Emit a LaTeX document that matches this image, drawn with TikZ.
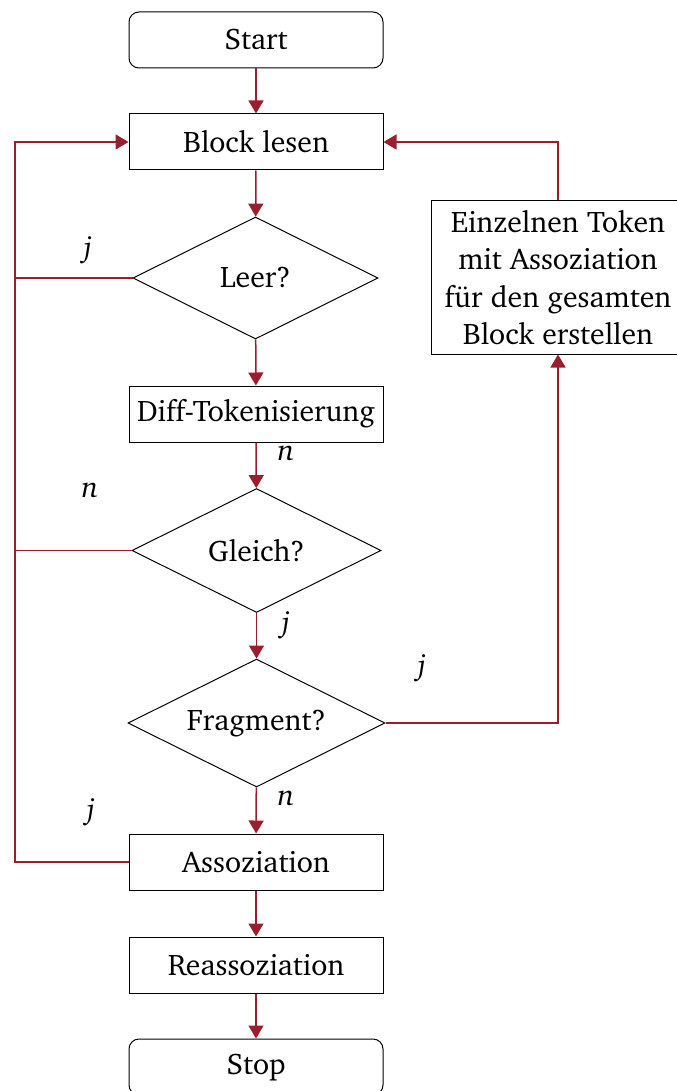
\documentclass[tikz,border=0pt]{standalone}
\usepackage[T1]{fontenc}
\usepackage{charter}
\usetikzlibrary{shapes.geometric,arrows.meta}
\definecolor{flowred}{RGB}{155,30,45}
\tikzset{
  base/.style={draw=black, line width=0.5pt, align=center, inner sep=0pt,
    font=\fontsize{14.9}{18.75}\selectfont},
  proc/.style={base, rectangle, minimum width=127pt, minimum height=28pt},
  term/.style={proc, rounded corners=5pt},
  decide/.style={base, diamond, shape aspect=2},
  link/.style={draw=flowred, line width=0.75pt},
  arr/.style={link, -{Triangle[length=6.5pt,width=7.5pt]}},
  lab/.style={inner sep=0pt, font=\fontsize{14.9}{17}\selectfont\itshape}
}
\begin{document}
\begin{tikzpicture}[x=0.5pt, y=-0.5pt]
  \useasboundingbox (0,0) rectangle (676,1091);

  % main column
  \node[term] (start) at (256,40) {Start};
  \node[proc] (read) at (256,142) {Block lesen};
  \node[decide, minimum width=122.5pt, minimum height=61pt] (empty) at (255.5,278) {Leer?};
  \node[proc] (diff) at (256,414) {Diff-Tokenisierung};
  \node[decide, minimum width=124.5pt, minimum height=62pt] (equal) at (256.5,550.5) {Gleich?};
  \node[decide, minimum width=128.5pt, minimum height=64pt] (frag) at (256.5,723) {Fragment?};
  \node[proc] (assoc) at (256,862) {Assoziation};
  \node[proc] (reassoc) at (256,965) {Reassoziation};
  \node[term] (stop) at (256,1067) {Stop};

  % side box for fragments
  \node[proc, minimum height=76.5pt] (token) at (558,277.5)
    {Einzelnen Token\\mit Assoziation\\für den gesamten\\Block erstellen};

  % straight flow
  \draw[arr] (start) -- (read);
  \draw[arr] (read) -- (empty);
  \draw[arr] (empty) -- (diff);
  \draw[arr] (diff) -- (equal);
  \draw[arr] (equal) -- (frag);
  \draw[arr] (frag) -- (assoc);
  \draw[arr] (assoc) -- (reassoc);
  \draw[arr] (reassoc) -- (stop);

  % return loop on the left
  \coordinate (lt) at (15,142);
  \draw[arr] (assoc.west) -- (assoc.west -| lt) -- (lt) -- (read.west);
  \draw[link] (empty.west) -- (empty.west -| lt);
  \draw[link] (equal.west) -- (equal.west -| lt);

  % fragment branch on the right
  \draw[arr] (frag.east) -| (token.south);
  \draw[arr] (token.north) |- (read.east);

  % branch labels
  \node[lab] (l1) at (88,250) {j};
  \node[lab] (l2) at (286,453) {n};
  \node[lab] (l3) at (90,490) {n};
  \node[lab] (l4) at (286,625) {j};
  \node[lab] (l5) at (422,668) {j};
  \node[lab] (l6) at (286,798) {n};
  \node[lab] (l7) at (91,812) {j};
\end{tikzpicture}
\end{document}
